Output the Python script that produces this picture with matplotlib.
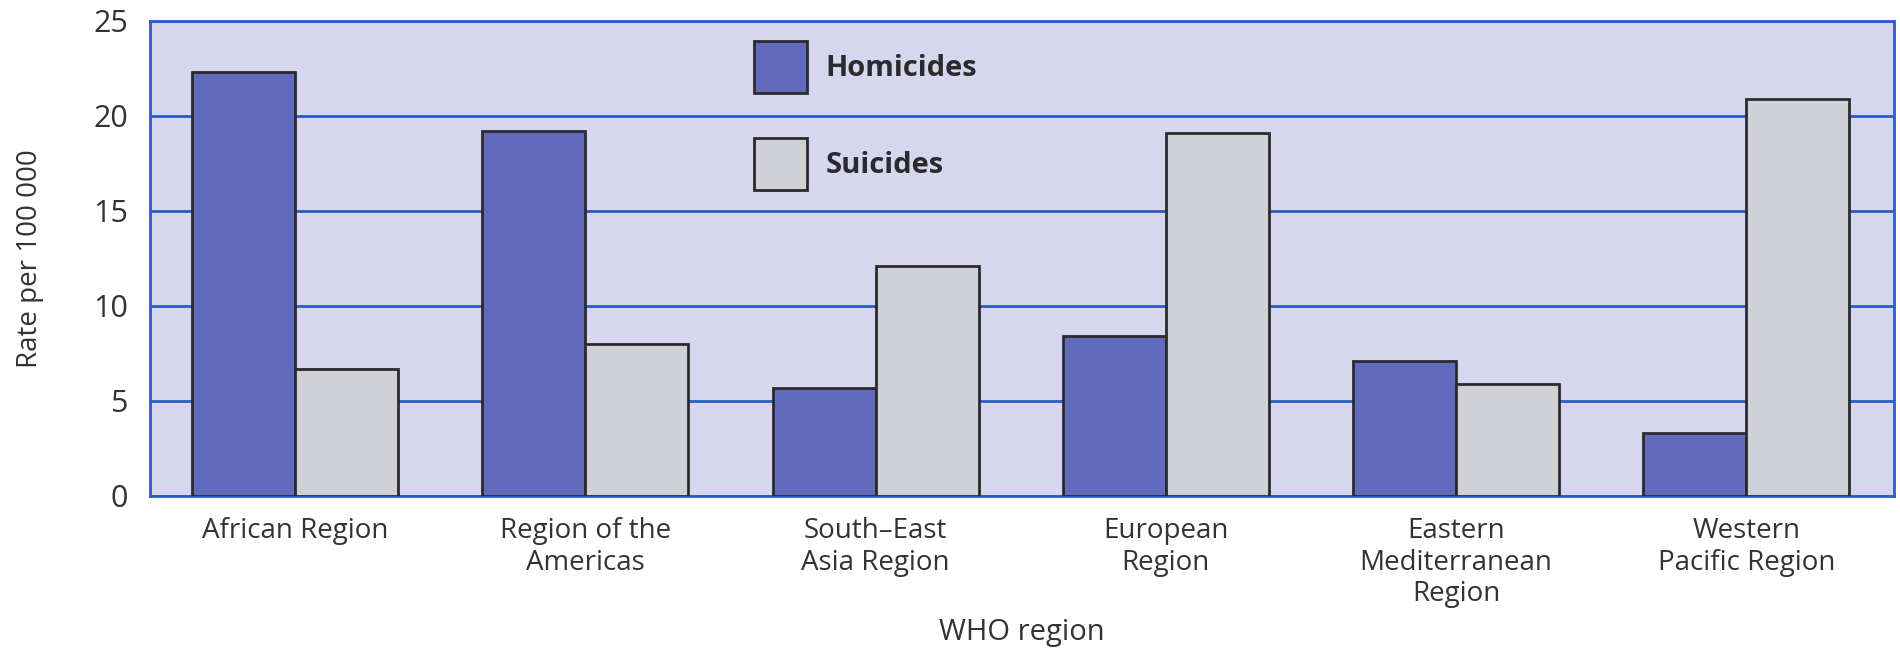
import numpy as np
import matplotlib
matplotlib.use("Agg")
import matplotlib.pyplot as plt

plt.rcParams['font.family'] = ['Open Sans', 'DejaVu Sans']

# datos
regions = ['African Region', 'Region of the\nAmericas', 'South\u2013East\nAsia Region',
           'European\nRegion', 'Eastern\nMediterranean\nRegion', 'Western\nPacific Region']
homicides = [22.3, 19.2, 5.7, 8.4, 7.1, 3.3]
suicides = [6.7, 8.0, 12.1, 19.1, 5.9, 20.9]
yticks = [0, 5, 10, 15, 20, 25]

col_hom = '#606bbd'
col_sui = '#d0d1d6'
col_bg = '#d6d6ee'
col_blue = '#2c5cc5'
col_edge = '#2b2b2e'

fig = plt.figure(figsize=(19, 6.5), dpi=100)
ax = fig.add_axes([0.079, 0.237, 0.918, 0.731])
ax.set_facecolor(col_bg)

x = np.arange(len(regions))
w = 0.355
ax.bar(x - w/2, homicides, w, color=col_hom, edgecolor=col_edge, linewidth=2, label='Homicides', zorder=3)
ax.bar(x + w/2, suicides, w, color=col_sui, edgecolor=col_edge, linewidth=2, label='Suicides', zorder=3)

ax.set_xlim(-0.5, 5.51)
ax.set_ylim(0, 25)
ax.set_yticks(yticks)
ax.yaxis.grid(True, color=col_blue, linewidth=2, zorder=1)
ax.set_axisbelow(True)
for s in ax.spines.values():
    s.set_color(col_blue)
    s.set_linewidth(2)

ax.set_xticks(x)
ax.set_xticklabels(regions, fontsize=20, color='#333333', linespacing=1.18)
ax.tick_params(axis='x', length=0, pad=15)
ax.tick_params(axis='y', length=0, pad=16, labelsize=22, labelcolor='#333333')

ax.set_ylabel('Rate per 100 000', fontsize=20, color='#333333')
ax.yaxis.set_label_coords(-0.061, 0.5)
ax.set_xlabel('WHO region', fontsize=21, color='#333333')
ax.xaxis.set_label_coords(0.5, -0.257)

leg = ax.legend(loc='upper left', bbox_to_anchor=(0.338, 0.988), frameon=False, borderpad=0,
                handlelength=1.82, handleheight=2.36, labelspacing=1.54, handletextpad=0.62,
                prop={'weight': 'bold', 'size': 21})
for t in leg.get_texts():
    t.set_color('#2b2b2e')

fig.savefig('out.png', dpi=100)
